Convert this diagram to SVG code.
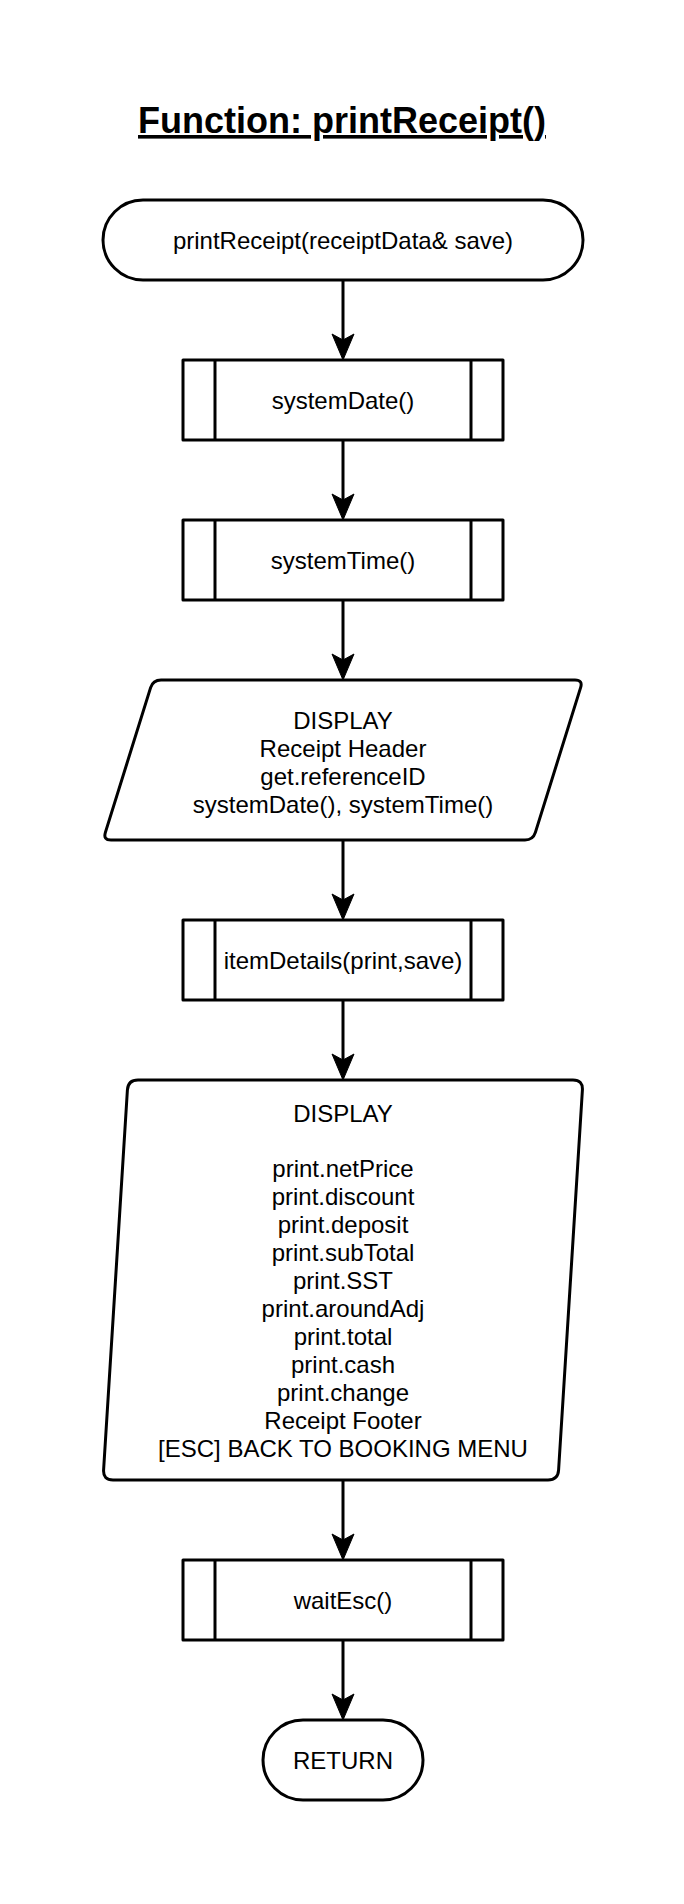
<svg xmlns="http://www.w3.org/2000/svg" width="684" height="1904" viewBox="0 0 684 1904">
<defs>
<style>
.s{fill:#fff;stroke:#000;stroke-width:3;stroke-linejoin:round}
.t{font-family:"Liberation Sans",Arial,sans-serif;font-size:24px;fill:#000;text-anchor:middle}
.title{font-family:"Liberation Sans",Arial,sans-serif;font-size:36px;font-weight:bold;fill:#000;text-anchor:middle;text-decoration:underline}
.c{fill:none;stroke:#000;stroke-width:3}
</style>
<marker id="arr" markerUnits="userSpaceOnUse" markerWidth="28" markerHeight="24" viewBox="0 0 28 24" refX="7" refY="12" orient="auto">
<path d="M1,1 L27,12 L1,23 L7,12 Z" fill="#000" stroke="#000" stroke-width="1" stroke-linejoin="miter"/>
</marker>
</defs>
<rect width="684" height="1904" fill="#fff"/>
<g id="title"><text class="title" x="342" y="133">Function: printReceipt()</text></g>
<g id="connectors">
<line class="c" x1="343" y1="280" x2="343" y2="340" marker-end="url(#arr)"/>
<line class="c" x1="343" y1="440" x2="343" y2="500" marker-end="url(#arr)"/>
<line class="c" x1="343" y1="600" x2="343" y2="660" marker-end="url(#arr)"/>
<line class="c" x1="343" y1="840" x2="343" y2="900" marker-end="url(#arr)"/>
<line class="c" x1="343" y1="1000" x2="343" y2="1060" marker-end="url(#arr)"/>
<line class="c" x1="343" y1="1480" x2="343" y2="1540" marker-end="url(#arr)"/>
<line class="c" x1="343" y1="1640" x2="343" y2="1700" marker-end="url(#arr)"/>
</g>
<g id="start">
<rect class="s" x="103" y="200" width="480" height="80" rx="40" ry="40"/>
<text class="t" x="343" y="248.5">printReceipt(receiptData&amp; save)</text>
</g>
<g id="systemDate">
<rect class="s" x="183" y="360" width="320" height="80"/>
<line class="c" x1="215" y1="360" x2="215" y2="440"/>
<line class="c" x1="471" y1="360" x2="471" y2="440"/>
<text class="t" x="343" y="408.5">systemDate()</text>
</g>
<g id="systemTime">
<rect class="s" x="183" y="520" width="320" height="80"/>
<line class="c" x1="215" y1="520" x2="215" y2="600"/>
<line class="c" x1="471" y1="520" x2="471" y2="600"/>
<text class="t" x="343" y="568.5">systemTime()</text>
</g>
<g id="displayHeader">
<path class="s" d="M161,680 H575 Q583,680 580.6,687.6 L535.4,832.4 Q533,840 525,840 H111 Q103,840 105.4,832.4 L150.6,687.6 Q153,680 161,680 Z"/>
<text class="t" x="343" y="728.5">DISPLAY</text>
<text class="t" x="343" y="756.5">Receipt Header</text>
<text class="t" x="343" y="784.5">get.referenceID</text>
<text class="t" x="343" y="812.5">systemDate(), systemTime()</text>
</g>
<g id="itemDetails">
<rect class="s" x="183" y="920" width="320" height="80"/>
<line class="c" x1="215" y1="920" x2="215" y2="1000"/>
<line class="c" x1="471" y1="920" x2="471" y2="1000"/>
<text class="t" x="343" y="968.5">itemDetails(print,save)</text>
</g>
<g id="displayTotals">
<path class="s" d="M138,1080 H573 Q583,1080 582.4,1090 L558.6,1470 Q558,1480 548,1480 H113 Q103,1480 103.6,1470 L127.4,1090 Q128,1080 138,1080 Z"/>
<text class="t" x="343" y="1121.5">DISPLAY</text>
<text class="t" x="343" y="1177">print.netPrice</text>
<text class="t" x="343" y="1205">print.discount</text>
<text class="t" x="343" y="1233">print.deposit</text>
<text class="t" x="343" y="1261">print.subTotal</text>
<text class="t" x="343" y="1289">print.SST</text>
<text class="t" x="343" y="1317">print.aroundAdj</text>
<text class="t" x="343" y="1345">print.total</text>
<text class="t" x="343" y="1373">print.cash</text>
<text class="t" x="343" y="1401">print.change</text>
<text class="t" x="343" y="1429">Receipt Footer</text>
<text class="t" x="343" y="1457">[ESC] BACK TO BOOKING MENU</text>
</g>
<g id="waitEsc">
<rect class="s" x="183" y="1560" width="320" height="80"/>
<line class="c" x1="215" y1="1560" x2="215" y2="1640"/>
<line class="c" x1="471" y1="1560" x2="471" y2="1640"/>
<text class="t" x="343" y="1608.5">waitEsc()</text>
</g>
<g id="return">
<rect class="s" x="263" y="1720" width="160" height="80" rx="40" ry="40"/>
<text class="t" x="343" y="1768.5">RETURN</text>
</g>
</svg>
